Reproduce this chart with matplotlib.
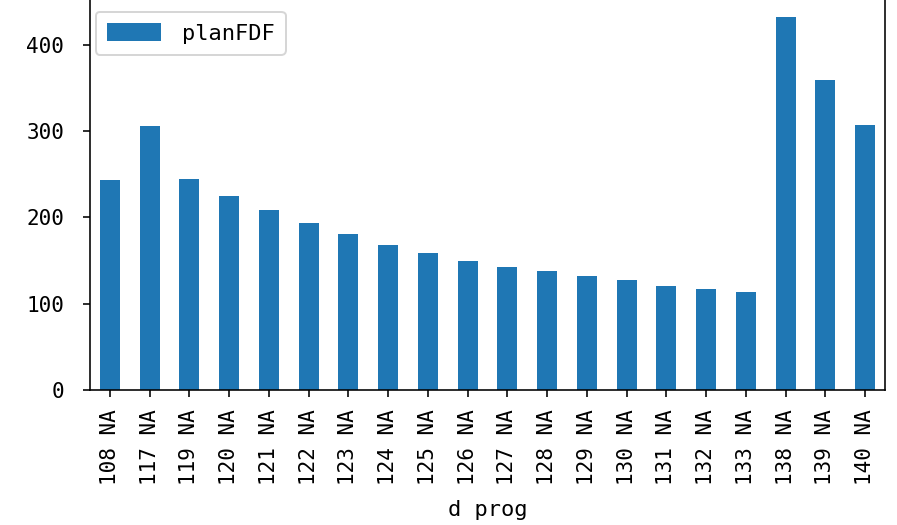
import pandas as pd
import matplotlib
matplotlib.use("Agg")
import matplotlib.pyplot as plt

plt.rcParams['font.family'] = ['DejaVu Sans Mono', 'Noto Sans CJK SC']
plt.rcParams['axes.unicode_minus'] = False

# données
progs = ['108 NA', '117 NA', '119 NA', '120 NA', '121 NA', '122 NA', '123 NA',
         '124 NA', '125 NA', '126 NA', '127 NA', '128 NA', '129 NA', '130 NA',
         '131 NA', '132 NA', '133 NA', '138 NA', '139 NA', '140 NA']
plan_fdf = [243, 306, 244, 225, 208, 193, 181, 168, 159, 149,
            142, 138, 132, 127, 120, 117, 113, 432, 359, 307]

df = pd.DataFrame({'planFDF': plan_fdf}, index=pd.Index(progs, name='d prog'))

fig = plt.figure(figsize=(897 / 144, 525 / 144), dpi=144)
ax = fig.add_axes([90 / 897, 135 / 525, 795 / 897, 391.5 / 525])
df.plot.bar(ax=ax, color='#1f77b4', width=0.5)

ax.set_xlabel('d prog', fontsize=11, labelpad=7.5)
ax.tick_params(axis='x', labelrotation=90, labelsize=10.5, pad=6)
ax.tick_params(axis='y', labelsize=10.5, pad=9.5)
leg = ax.legend(loc='upper left', fontsize=11, handlelength=2.45, handleheight=0.87,
                handletextpad=0.95, borderpad=0.5, borderaxespad=0,
                bbox_to_anchor=(96 / 897, 1 - 12 / 525), bbox_transform=fig.transFigure)

fig.savefig('out.png', dpi=144)
